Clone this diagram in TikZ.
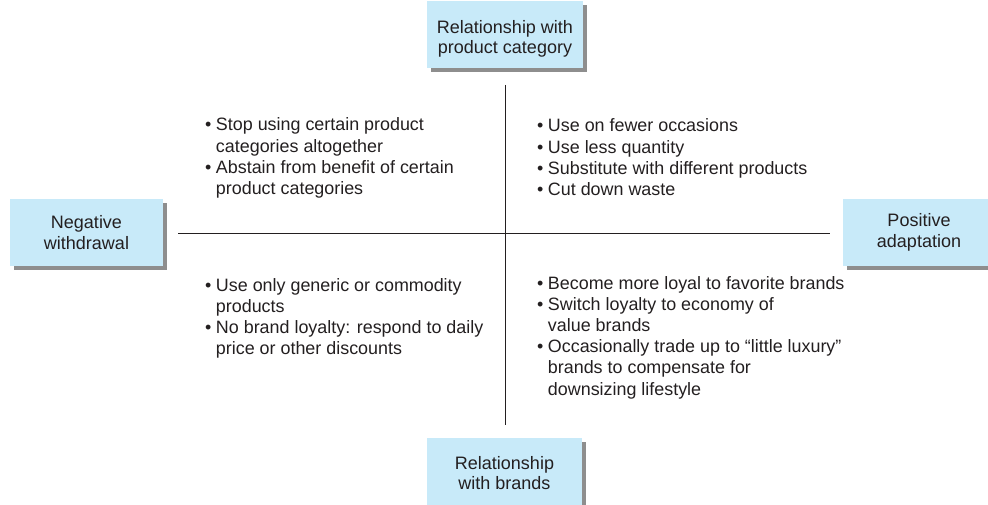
\documentclass[tikz,border=0pt]{standalone}
\usepackage{fontspec}
\setmainfont{Liberation Sans}
\usetikzlibrary{shadows}
\definecolor{boxblue}{HTML}{C8EAF9}
\definecolor{shadowgray}{HTML}{8E8E8E}
\definecolor{txt}{HTML}{231F20}
\newcommand{\listfont}{\fontsize{17.9}{21.2}\selectfont}
\tikzset{
  labelbox/.style={fill=boxblue, draw=none, inner sep=0pt, align=center,
    text=txt, font=\fontsize{18}{20.5}\selectfont,
    drop shadow={shadow xshift=4pt, shadow yshift=-4pt, fill=shadowgray, opacity=1}},
  itemlist/.style={inner sep=0pt, anchor=base west, text=txt, font=\listfont},
  axis/.style={draw=txt, line width=0.8pt}
}
\begin{document}
\begin{tikzpicture}[x=1pt,y=-1pt]
\useasboundingbox (0,0) rectangle (988,505);
% axes
\coordinate (hl) at (178,233);
\coordinate (hr) at (830,233);
\coordinate (vt) at (505,85);
\coordinate (vb) at (505,425);
\draw[axis] (hl) -- (hr);
\draw[axis] (vt) -- (vb);
% boxes
\node[labelbox, minimum width=156pt, minimum height=67pt] (top) at (505,35) {\rule{0pt}{21pt}Relationship with\\product category};
\node[labelbox, minimum width=153pt, minimum height=67pt] (left) at (86.5,232.5) {Negative\\withdrawal};
\node[labelbox, minimum width=152pt, minimum height=67pt] (right) at (919,232.5) {Positive\\adaptation};
\node[labelbox, minimum width=155pt, minimum height=70pt] (bottom) at (504.5,473) {Relationship\\with brands};
% lists
\node[itemlist] (tl) at (205,131) {\begin{tabular}[t]{@{}l@{\hspace{4.5pt}}l@{}}
\textbullet & Stop using certain product\\
 & categories altogether\\
\textbullet & Abstain from benefit of certain\\
 & product categories
\end{tabular}};
\node[itemlist] (tr) at (537,132) {\begin{tabular}[t]{@{}l@{\hspace{4.5pt}}l@{}}
\textbullet & Use on fewer occasions\\
\textbullet & Use less quantity\\
\textbullet & Substitute with different products\\
\textbullet & Cut down waste
\end{tabular}};
\node[itemlist] (bl) at (205,291) {\begin{tabular}[t]{@{}l@{\hspace{4.5pt}}l@{}}
\textbullet & Use only generic or commodity\\
 & products\\
\textbullet & No brand loyalty: respond to daily\\
 & price or other discounts
\end{tabular}};
\node[itemlist] (br) at (537,289) {\begin{tabular}[t]{@{}l@{\hspace{4.5pt}}l@{}}
\textbullet & Become more loyal to favorite brands\\
\textbullet & Switch loyalty to economy of\\
 & value brands\\
\textbullet & Occasionally trade up to “little luxury”\\
 & brands to compensate for\\
 & downsizing lifestyle
\end{tabular}};
\end{tikzpicture}
\end{document}
